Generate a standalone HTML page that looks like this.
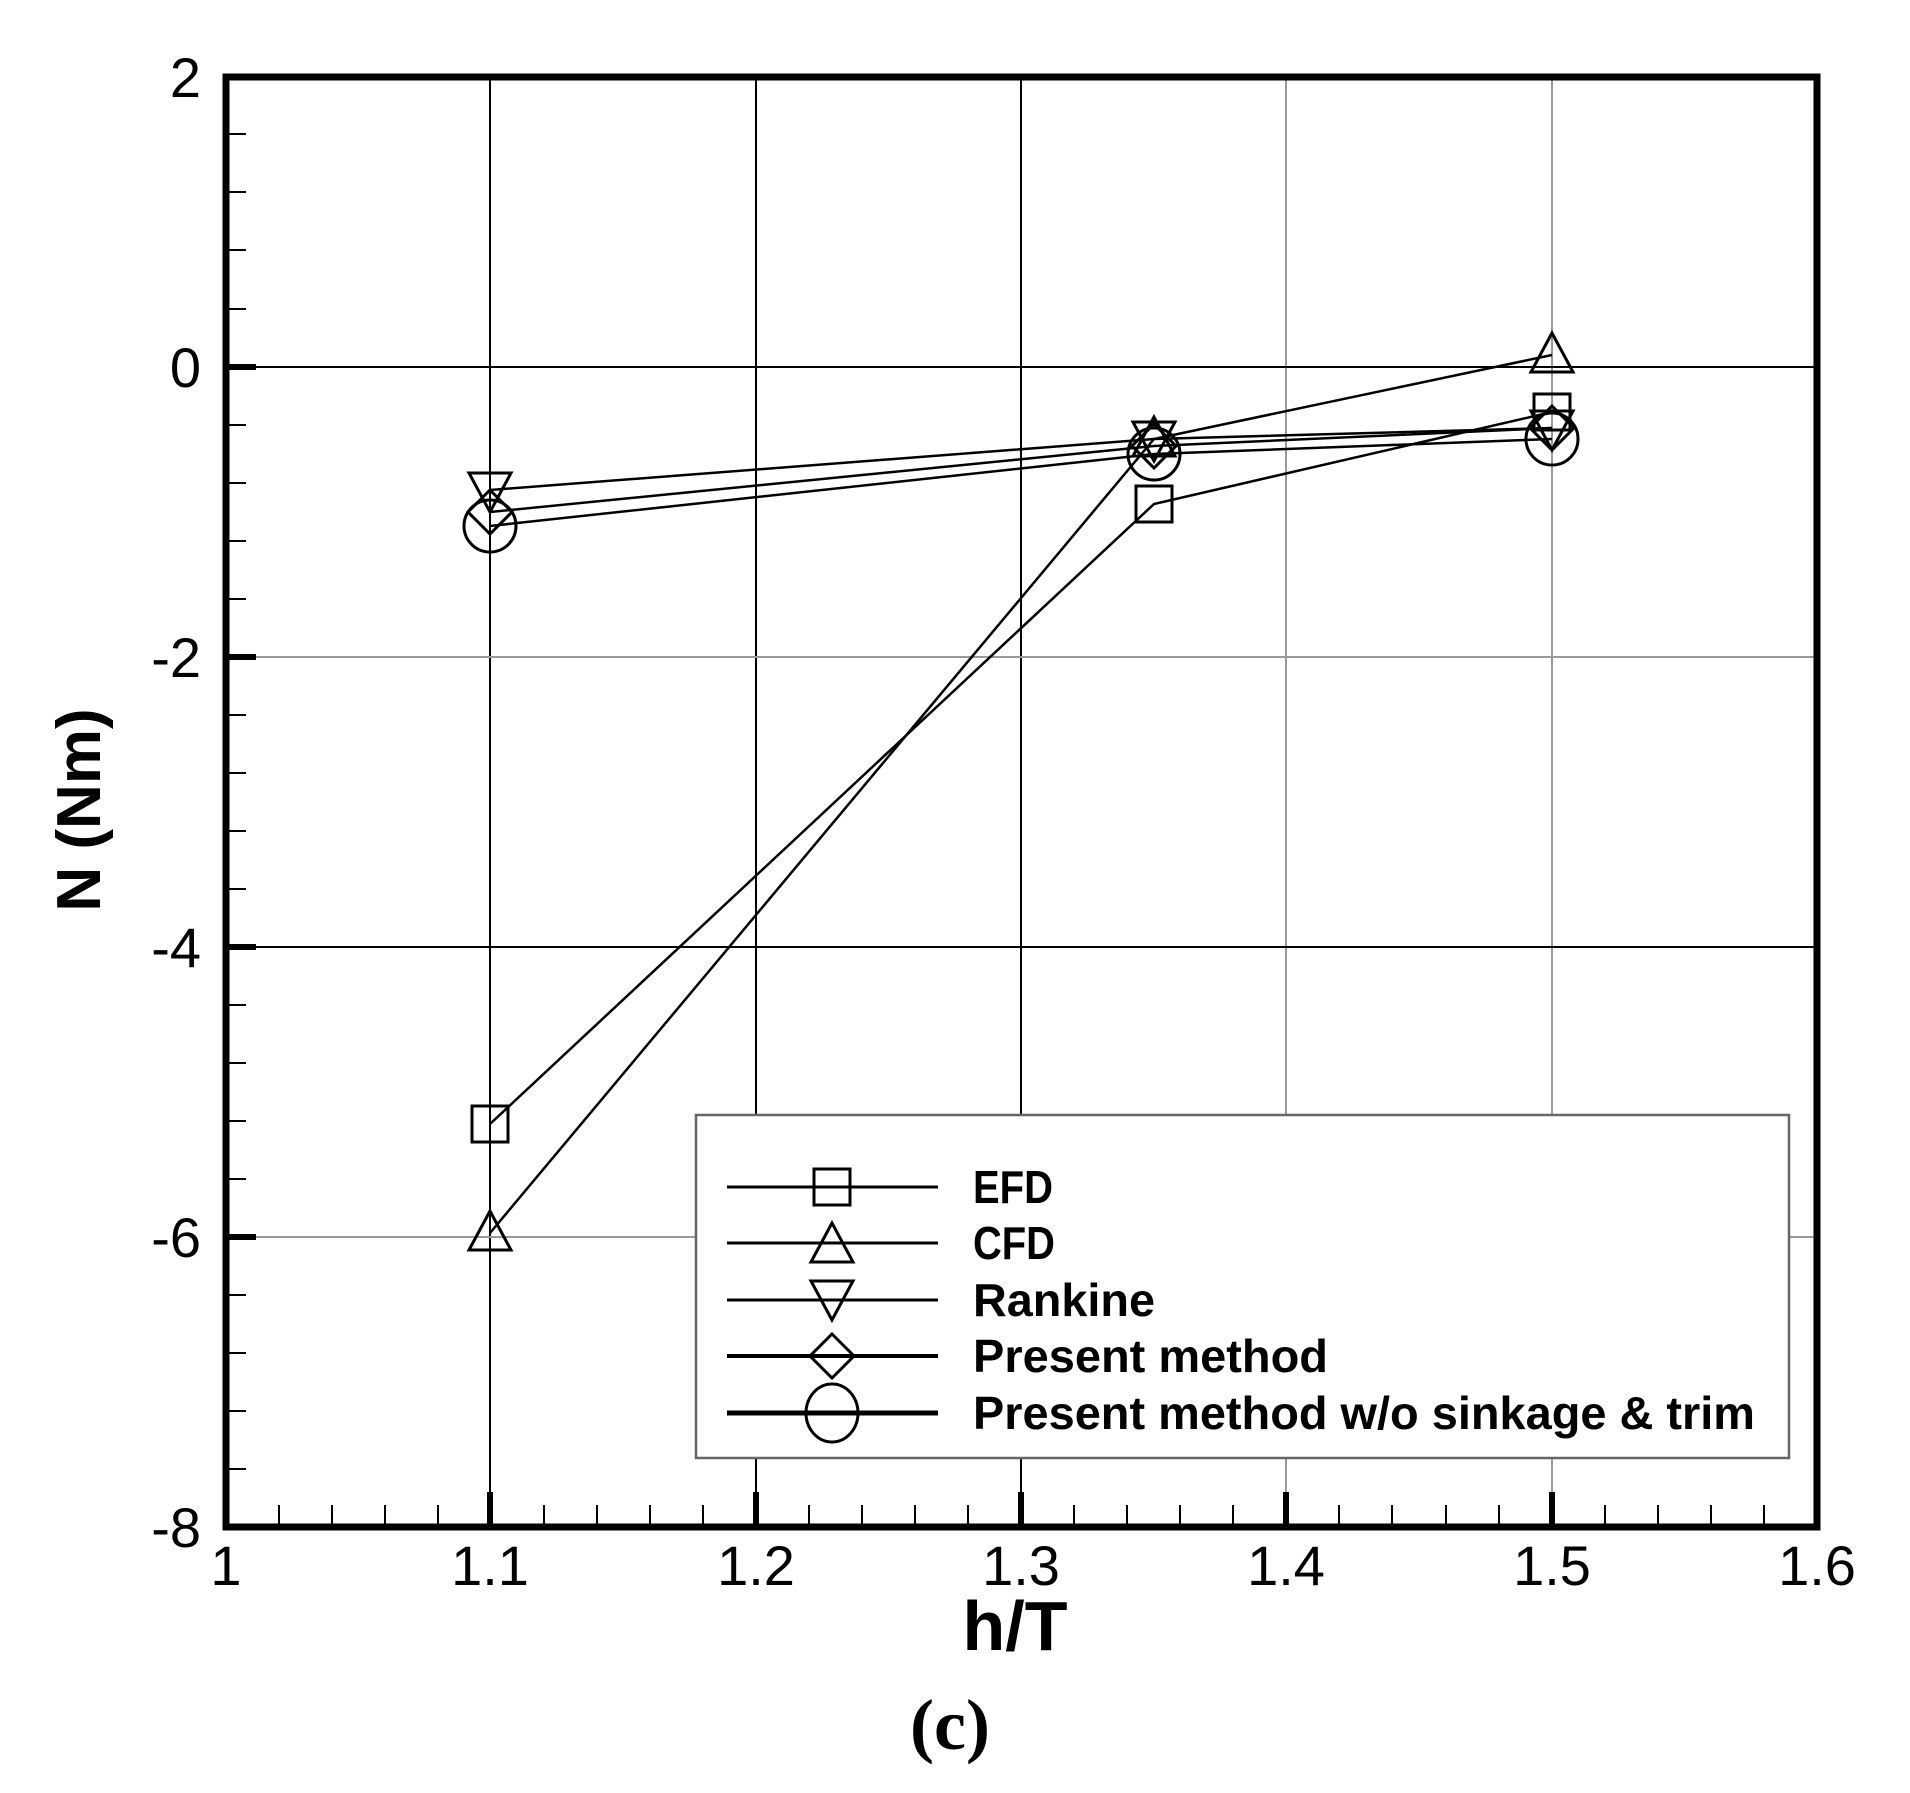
<!DOCTYPE html>
<html><head><meta charset="utf-8"><style>html,body{margin:0;padding:0;background:#fff}svg{display:block}</style></head>
<body>
<svg width="1910" height="1793" viewBox="0 0 1910 1793" xmlns="http://www.w3.org/2000/svg" font-family="Liberation Sans, Arial, sans-serif">
<rect width="1910" height="1793" fill="#fff"/>
<g stroke-width="2">
<line x1="490" y1="76" x2="490" y2="1527" stroke="#000"/>
<line x1="756" y1="76" x2="756" y2="1527" stroke="#000"/>
<line x1="1021" y1="76" x2="1021" y2="1527" stroke="#000"/>
<line x1="1286" y1="76" x2="1286" y2="1527" stroke="#999"/>
<line x1="1552" y1="76" x2="1552" y2="1527" stroke="#999"/>
<line x1="226" y1="367" x2="1817" y2="367" stroke="#000"/>
<line x1="226" y1="657" x2="1817" y2="657" stroke="#999"/>
<line x1="226" y1="947" x2="1817" y2="947" stroke="#000"/>
<line x1="226" y1="1237" x2="1817" y2="1237" stroke="#999"/>
</g>
<g stroke="#000" stroke-width="2">
<line x1="226" y1="134" x2="246" y2="134"/><line x1="226" y1="192" x2="246" y2="192"/><line x1="226" y1="250" x2="246" y2="250"/><line x1="226" y1="309" x2="246" y2="309"/>
<line x1="226" y1="425" x2="246" y2="425"/><line x1="226" y1="483" x2="246" y2="483"/><line x1="226" y1="541" x2="246" y2="541"/><line x1="226" y1="599" x2="246" y2="599"/>
<line x1="226" y1="715" x2="246" y2="715"/><line x1="226" y1="773" x2="246" y2="773"/><line x1="226" y1="831" x2="246" y2="831"/><line x1="226" y1="889" x2="246" y2="889"/>
<line x1="226" y1="1005" x2="246" y2="1005"/><line x1="226" y1="1063" x2="246" y2="1063"/><line x1="226" y1="1121" x2="246" y2="1121"/><line x1="226" y1="1179" x2="246" y2="1179"/>
<line x1="226" y1="1295" x2="246" y2="1295"/><line x1="226" y1="1353" x2="246" y2="1353"/><line x1="226" y1="1411" x2="246" y2="1411"/><line x1="226" y1="1469" x2="246" y2="1469"/>
</g>
<g stroke="#000" stroke-width="2">
<line x1="279" y1="1527" x2="279" y2="1505"/><line x1="332" y1="1527" x2="332" y2="1505"/><line x1="385" y1="1527" x2="385" y2="1505"/><line x1="438" y1="1527" x2="438" y2="1505"/>
<line x1="544" y1="1527" x2="544" y2="1505"/><line x1="597" y1="1527" x2="597" y2="1505"/><line x1="650" y1="1527" x2="650" y2="1505"/><line x1="703" y1="1527" x2="703" y2="1505"/>
<line x1="809" y1="1527" x2="809" y2="1505"/><line x1="862" y1="1527" x2="862" y2="1505"/><line x1="915" y1="1527" x2="915" y2="1505"/><line x1="968" y1="1527" x2="968" y2="1505"/>
<line x1="1074" y1="1527" x2="1074" y2="1505"/><line x1="1127" y1="1527" x2="1127" y2="1505"/><line x1="1180" y1="1527" x2="1180" y2="1505"/><line x1="1233" y1="1527" x2="1233" y2="1505"/>
<line x1="1339" y1="1527" x2="1339" y2="1505"/><line x1="1392" y1="1527" x2="1392" y2="1505"/><line x1="1446" y1="1527" x2="1446" y2="1505"/><line x1="1499" y1="1527" x2="1499" y2="1505"/>
<line x1="1605" y1="1527" x2="1605" y2="1505"/><line x1="1658" y1="1527" x2="1658" y2="1505"/><line x1="1711" y1="1527" x2="1711" y2="1505"/><line x1="1764" y1="1527" x2="1764" y2="1505"/>
</g>
<g stroke="#000" stroke-width="6">
<line x1="490" y1="1527" x2="490" y2="1492"/><line x1="756" y1="1527" x2="756" y2="1492"/><line x1="1021" y1="1527" x2="1021" y2="1492"/><line x1="1286" y1="1527" x2="1286" y2="1492"/><line x1="1552" y1="1527" x2="1552" y2="1492"/>
<line x1="226" y1="367" x2="256" y2="367"/><line x1="226" y1="657" x2="256" y2="657"/><line x1="226" y1="947" x2="256" y2="947"/><line x1="226" y1="1237" x2="256" y2="1237"/>
</g>
<rect x="226" y="77" width="1591" height="1450" fill="none" stroke="#000" stroke-width="7"/>
<g fill="none" stroke="#000" stroke-width="2.5">
<polyline points="490,1124 1154,504 1552,412"/>
<polyline points="490,1233 1154,439 1552,355"/>
<polyline points="490,490 1154,439 1552,428"/>
<polyline points="490,512 1154,446 1552,428"/>
<polyline points="490,526 1154,454 1552,439"/>
</g>
<g fill="none" stroke="#000" stroke-width="3">
<rect x="472" y="1106" width="36" height="36"/><rect x="1136" y="486" width="36" height="36"/><rect x="1534" y="394" width="36" height="36"/>
<polygon points="490,1211 469,1250 511,1250"/><polygon points="1154,417 1133,456 1175,456"/><polygon points="1552,333 1531,372 1573,372"/>
<polygon points="490,512 469,473 511,473"/><polygon points="1154,461 1133,422 1175,422"/><polygon points="1552,450 1531,411 1573,411"/>
<polygon points="490,490 512,512 490,534 468,512"/><polygon points="1154,424 1176,446 1154,468 1132,446"/><polygon points="1552,406 1574,428 1552,450 1530,428"/>
<circle cx="490" cy="526" r="26"/><circle cx="1154" cy="454" r="26"/><circle cx="1552" cy="439" r="26"/>
</g>
<g font-size="56" text-anchor="end" fill="#000">
<text x="201" y="97">2</text><text x="201" y="387">0</text><text x="201" y="677">-2</text><text x="201" y="967">-4</text><text x="201" y="1257">-6</text><text x="201" y="1547">-8</text>
</g>
<g font-size="56" text-anchor="middle" fill="#000">
<text x="226" y="1585">1</text><text x="490" y="1585">1.1</text><text x="756" y="1585">1.2</text><text x="1021" y="1585">1.3</text><text x="1286" y="1585">1.4</text><text x="1552" y="1585">1.5</text><text x="1817" y="1585">1.6</text>
</g>
<text x="1015" y="1650" font-size="70" font-weight="bold" text-anchor="middle">h/T</text>
<text transform="translate(100,810) rotate(-90)" font-size="62" font-weight="bold" text-anchor="middle">N (Nm)</text>
<text x="950" y="1749" font-size="72" font-weight="bold" text-anchor="middle" font-family="Liberation Serif, serif">(c)</text>
<rect x="696" y="1115" width="1093" height="343" fill="#fff" stroke="#666" stroke-width="2.5"/>
<g stroke="#000" stroke-width="3" fill="none">
<line x1="727" y1="1187" x2="938" y2="1187"/><line x1="727" y1="1243" x2="938" y2="1243"/><line x1="727" y1="1300" x2="938" y2="1300"/><line x1="727" y1="1356" x2="938" y2="1356" stroke-width="4"/><line x1="727" y1="1413" x2="938" y2="1413" stroke-width="5"/>
<rect x="814" y="1169" width="36" height="36"/>
<polygon points="832,1223 811,1262 853,1262"/>
<polygon points="832,1320 811,1281 853,1281"/>
<polygon points="832,1334 854,1356 832,1378 810,1356"/>
<ellipse cx="832" cy="1413" rx="26" ry="29"/>
</g>
<g font-size="46" font-weight="bold" fill="#000">
<text x="973" y="1203" textLength="80" lengthAdjust="spacingAndGlyphs">EFD</text>
<text x="973" y="1259" textLength="82" lengthAdjust="spacingAndGlyphs">CFD</text>
<text x="973" y="1316" textLength="182" lengthAdjust="spacingAndGlyphs">Rankine</text>
<text x="973" y="1372" textLength="355" lengthAdjust="spacingAndGlyphs">Present method</text>
<text x="973" y="1429" textLength="782" lengthAdjust="spacingAndGlyphs">Present method w/o sinkage &amp; trim</text>
</g>
</svg>
</body></html>
